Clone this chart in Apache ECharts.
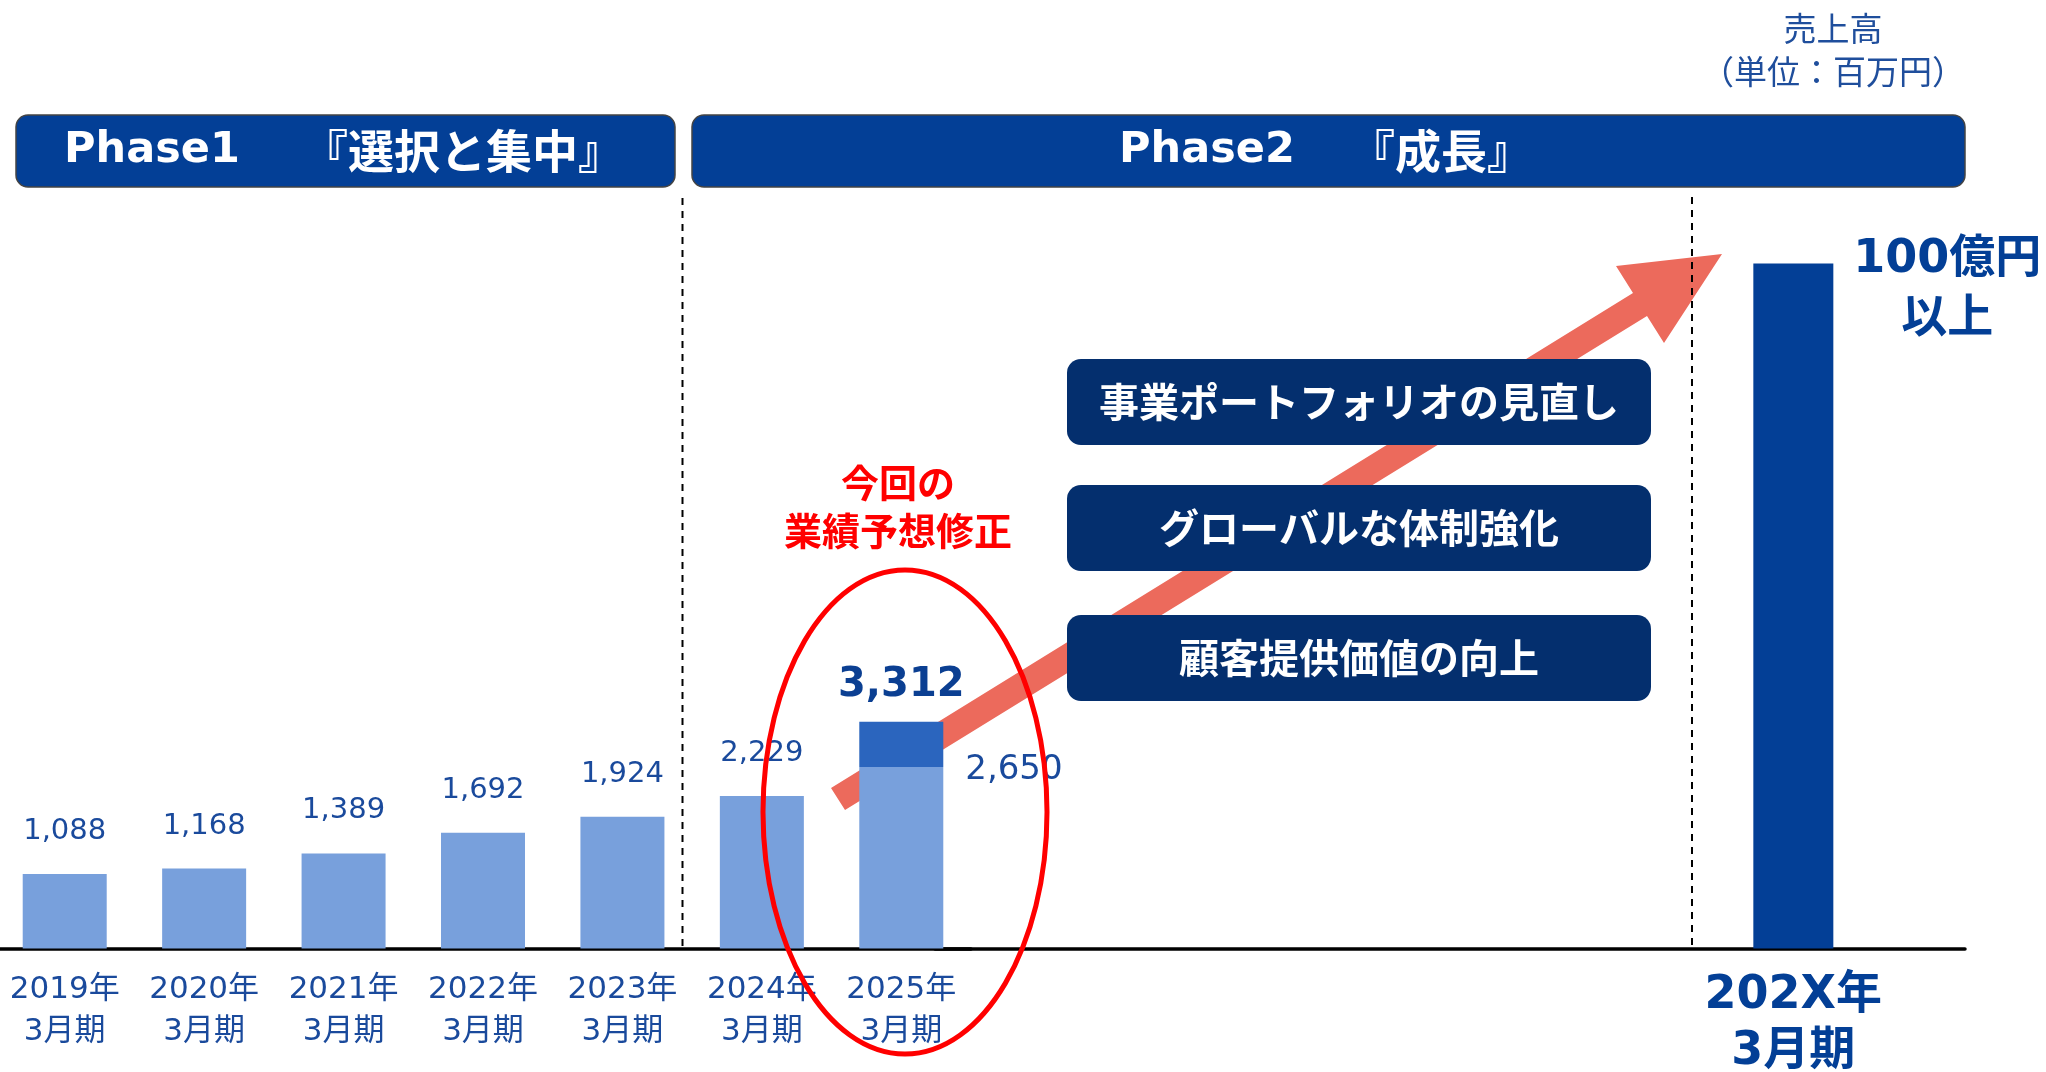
<!DOCTYPE html>
<html>
<head>
<meta charset="utf-8">
<script src="https://cdn.jsdelivr.net/npm/echarts@6/dist/echarts.min.js"></script>
<style>
  html, body { margin: 0; padding: 0; background: #fff; }
  #chart { width: 2046px; height: 1072px; }
</style>
</head>
<body>
<div id="chart"></div>
<script>
// 売上高（単位：百万円）
const categories = ['2019年\n3月期', '2020年\n3月期', '2021年\n3月期', '2022年\n3月期', '2023年\n3月期', '2024年\n3月期', '2025年\n3月期'];
const revenue = [1088, 1168, 1389, 1692, 1924, 2229, 2650];
const revised = [null, null, null, null, null, null, 3312];
const targetCategories = ['', '', '202X年\n3月期'];
const target = [null, null, 10000];
const targetLabel = '100億円\n以上';
const phases = ['Phase1　『選択と集中』', 'Phase2　『成長』'];
const strategies = ['事業ポートフォリオの見直し', 'グローバルな体制強化', '顧客提供価値の向上'];
const revisionNote = '今回の\n業績予想修正';
const unitNote = '売上高\n（単位：百万円）';

const fmt = v => v.toLocaleString('en-US');
const FONT = "'DejaVu Sans', 'Noto Sans CJK JP', sans-serif";
const JP = "'Noto Sans CJK JP', sans-serif";
const NAVY = '#033f96';

const chart = echarts.init(document.getElementById('chart'));

const last = revenue.length - 1;
const revenueData = revenue.map((v, i) => i === last ? {
  value: v,
  label: { position: ['100%', 0], align: 'left', verticalAlign: 'middle', offset: [22, 3], fontSize: 34 }
} : v);
const revisionData = revised.map((v, i) => v == null ? null : v - revenue[i]);

// フェーズ見出し（英字部分と和文部分を分けて配置）
const phaseBoxes = [
  { x: 16, width: 659, en: 152, jp: 463 },
  { x: 692, width: 1273, en: 1207, jp: 1441 }
];
const phaseGraphics = phases.flatMap((p, i) => {
  const [en, jp] = p.split('　');
  const b = phaseBoxes[i];
  return [
    { type: 'rect', z: 3, shape: { x: b.x, y: 115, width: b.width, height: 72, r: 12 }, style: { fill: NAVY, stroke: '#444', lineWidth: 1.5 } },
    { type: 'text', z: 4, x: b.en, y: 151, style: { text: en, fill: '#fff', font: `bold 43px ${FONT}`, align: 'center', verticalAlign: 'middle' } },
    { type: 'text', z: 4, x: b.jp, y: 151, style: { text: jp, fill: '#fff', font: `bold 46px ${JP}`, align: 'center', verticalAlign: 'middle' } }
  ];
});

chart.setOption({
  animation: false,
  grid: [
    { left: -5, width: 976, top: 126.6, height: 822, outerBoundsMode: 'none' },
    { left: 935, right: 81, top: 126.6, height: 822, outerBoundsMode: 'none' }
  ],
  xAxis: [
    {
      type: 'category', gridIndex: 0, data: categories,
      axisTick: { show: false },
      axisLine: { lineStyle: { color: '#000', width: 3.5 } },
      axisLabel: { interval: 0, margin: 20, fontSize: 31, lineHeight: 42, color: '#1a4a9c', fontFamily: FONT }
    },
    {
      type: 'category', gridIndex: 1, data: targetCategories,
      axisTick: { show: false },
      axisLine: { lineStyle: { color: '#000', width: 3.5 } },
      axisLabel: { interval: 0, margin: 19, fontSize: 46, lineHeight: 56, fontWeight: 'bold', color: NAVY, fontFamily: FONT }
    }
  ],
  yAxis: [
    { type: 'value', gridIndex: 0, min: 0, max: 12000, show: false },
    { type: 'value', gridIndex: 1, min: 0, max: 12000, show: false }
  ],
  series: [
    {
      type: 'bar', xAxisIndex: 0, yAxisIndex: 0, stack: 'fy', barWidth: 84,
      data: revenueData,
      itemStyle: { color: '#78a0dc' },
      label: {
        show: true, position: 'top', distance: 28,
        fontSize: 29, color: '#1a4a9c', fontFamily: FONT,
        formatter: p => fmt(p.value)
      }
    },
    {
      type: 'bar', xAxisIndex: 0, yAxisIndex: 0, stack: 'fy', barWidth: 84,
      data: revisionData,
      itemStyle: { color: '#2b65be' },
      label: {
        show: true, position: 'top', distance: 16,
        fontSize: 40, fontWeight: 'bold', color: '#0b3f92', fontFamily: FONT,
        formatter: p => fmt(revised[p.dataIndex])
      }
    },
    {
      type: 'bar', xAxisIndex: 1, yAxisIndex: 1, barWidth: 80,
      data: target,
      itemStyle: { color: NAVY },
      label: {
        show: true, position: ['100%', 0], align: 'center', verticalAlign: 'middle',
        offset: [114, 26], fontSize: 46, lineHeight: 60, fontWeight: 'bold',
        color: NAVY, fontFamily: FONT,
        formatter: () => targetLabel
      }
    }
  ],
  graphic: [
    // 成長の矢印
    {
      type: 'polygon', z: 1,
      shape: { points: [[831, 788], [1633, 293], [1616, 266], [1722, 254], [1664, 343], [1647, 316], [845, 810]] },
      style: { fill: '#ec6a5c' }
    },
    // 区切り線
    { type: 'line', z: 1.5, shape: { x1: 682.5, y1: 198, x2: 682.5, y2: 947 }, style: { stroke: '#000', lineWidth: 2, lineDash: [7, 6] } },
    { type: 'line', z: 1.5, shape: { x1: 1692, y1: 197, x2: 1692, y2: 947 }, style: { stroke: '#000', lineWidth: 2, lineDash: [7, 6] } },
    ...phaseGraphics,
    // 施策ボックス
    ...strategies.flatMap((s, i) => {
      const y = [359, 485, 615][i];
      return [
        { type: 'rect', z: 3, shape: { x: 1067, y: y, width: 584, height: 86, r: 14 }, style: { fill: '#042f6e' } },
        { type: 'text', z: 4, x: 1359, y: y + 43, style: { text: s, fill: '#fff', font: `bold 40px ${JP}`, align: 'center', verticalAlign: 'middle' } }
      ];
    }),
    // 業績予想修正
    { type: 'ellipse', z: 5, shape: { cx: 905, cy: 812, rx: 142, ry: 242 }, style: { fill: 'none', stroke: '#ff0000', lineWidth: 5 } },
    { type: 'text', z: 5, x: 898, y: 507, style: { text: revisionNote, fill: '#ff0000', font: `bold 38px ${JP}`, lineHeight: 48, align: 'center', verticalAlign: 'middle' } },
    // 単位
    { type: 'text', z: 5, x: 1833, y: 50, style: { text: unitNote, fill: '#1f4e9c', font: `33px ${JP}`, lineHeight: 43, align: 'center', verticalAlign: 'middle' } }
  ]
});
</script>
</body>
</html>
